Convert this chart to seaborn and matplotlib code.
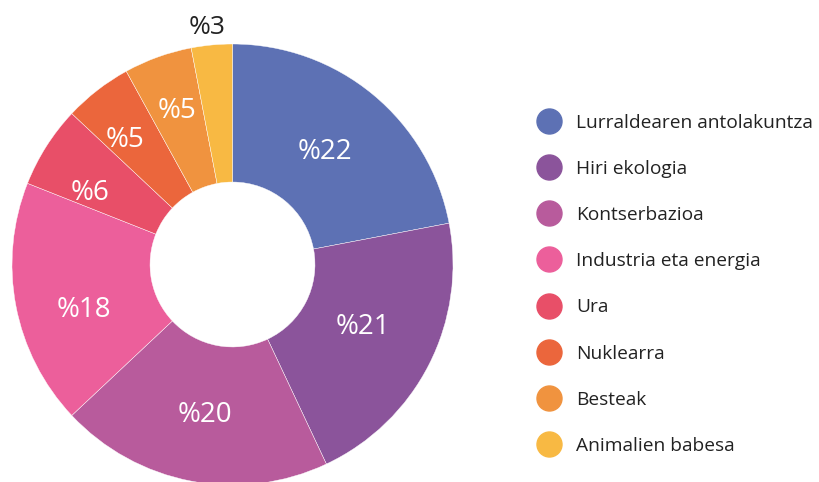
import matplotlib
matplotlib.use("Agg")
import matplotlib.pyplot as plt
from matplotlib.lines import Line2D
from matplotlib.transforms import offset_copy
import seaborn as sns
import numpy as np

# data
categories = ["Lurraldearen antolakuntza", "Hiri ekologia", "Kontserbazioa",
              "Industria eta energia", "Ura", "Nuklearra", "Besteak",
              "Animalien babesa"]
values = [22, 21, 20, 18, 6, 5, 5, 3]
labels = ["%22", "%21", "%20", "%18", "%6", "%5", "%5", "%3"]
colors = ["#5d71b4", "#8b549b", "#b85b9c", "#ec5f9b",
          "#e84f68", "#eb663c", "#f0933f", "#f8b943"]

# label placement (radius as fraction of pie radius, angle nudge in degrees)
label_r = [0.675, 0.65, 0.68, 0.70, 0.73, 0.757, 0.753, 1.097]
label_nudge = [1.1, 2.9, 0.2, 5.1, 4.8, 2.3, -0.3, 0.6]

sns.set_theme(style="white")
plt.rcParams['font.family'] = ['Open Sans', 'DejaVu Sans']

fig = plt.figure(figsize=(8.2, 4.82), dpi=100)
# place the donut: center (232.5, 264.5) px, radius 220.5 px
ax = fig.add_axes([12 / 820, -3 / 482, 441 / 820, 441 / 482])

palette = sns.color_palette(colors)
wedges, _ = ax.pie(values, colors=palette, startangle=90, counterclock=False,
                   radius=1, wedgeprops=dict(width=0.626, edgecolor="white", linewidth=0.3))
ax.set_xlim(-1, 1)
ax.set_ylim(-1, 1)

# Open Sans sits a little high with va=center, push labels down a touch
txt_tr = offset_copy(ax.transData, fig=fig, x=0, y=-3.5, units="dots")
for w, lab, r, nd in zip(wedges, labels, label_r, label_nudge):
    ang = np.deg2rad((w.theta1 + w.theta2) / 2 + nd)
    col = "#222222" if r > 1 else "white"
    ax.text(r * np.cos(ang), r * np.sin(ang), lab, ha="center", va="center",
            color=col, fontsize=20 if r < 1 else 19, clip_on=False,
            transform=txt_tr)
ax.set_axis_off()

handles = [Line2D([0], [0], marker="o", linestyle="", markersize=18,
                  markerfacecolor=c, markeredgecolor=c) for c in palette]
fig.legend(handles, categories, loc="upper left", bbox_to_anchor=(530 / 820, 1 - 106 / 482),
           frameon=False, fontsize=13.8, labelspacing=1.47, handletextpad=0.82,
           handlelength=1.2, borderaxespad=0, labelcolor="#222222")

fig.savefig("out.png", dpi=100)
